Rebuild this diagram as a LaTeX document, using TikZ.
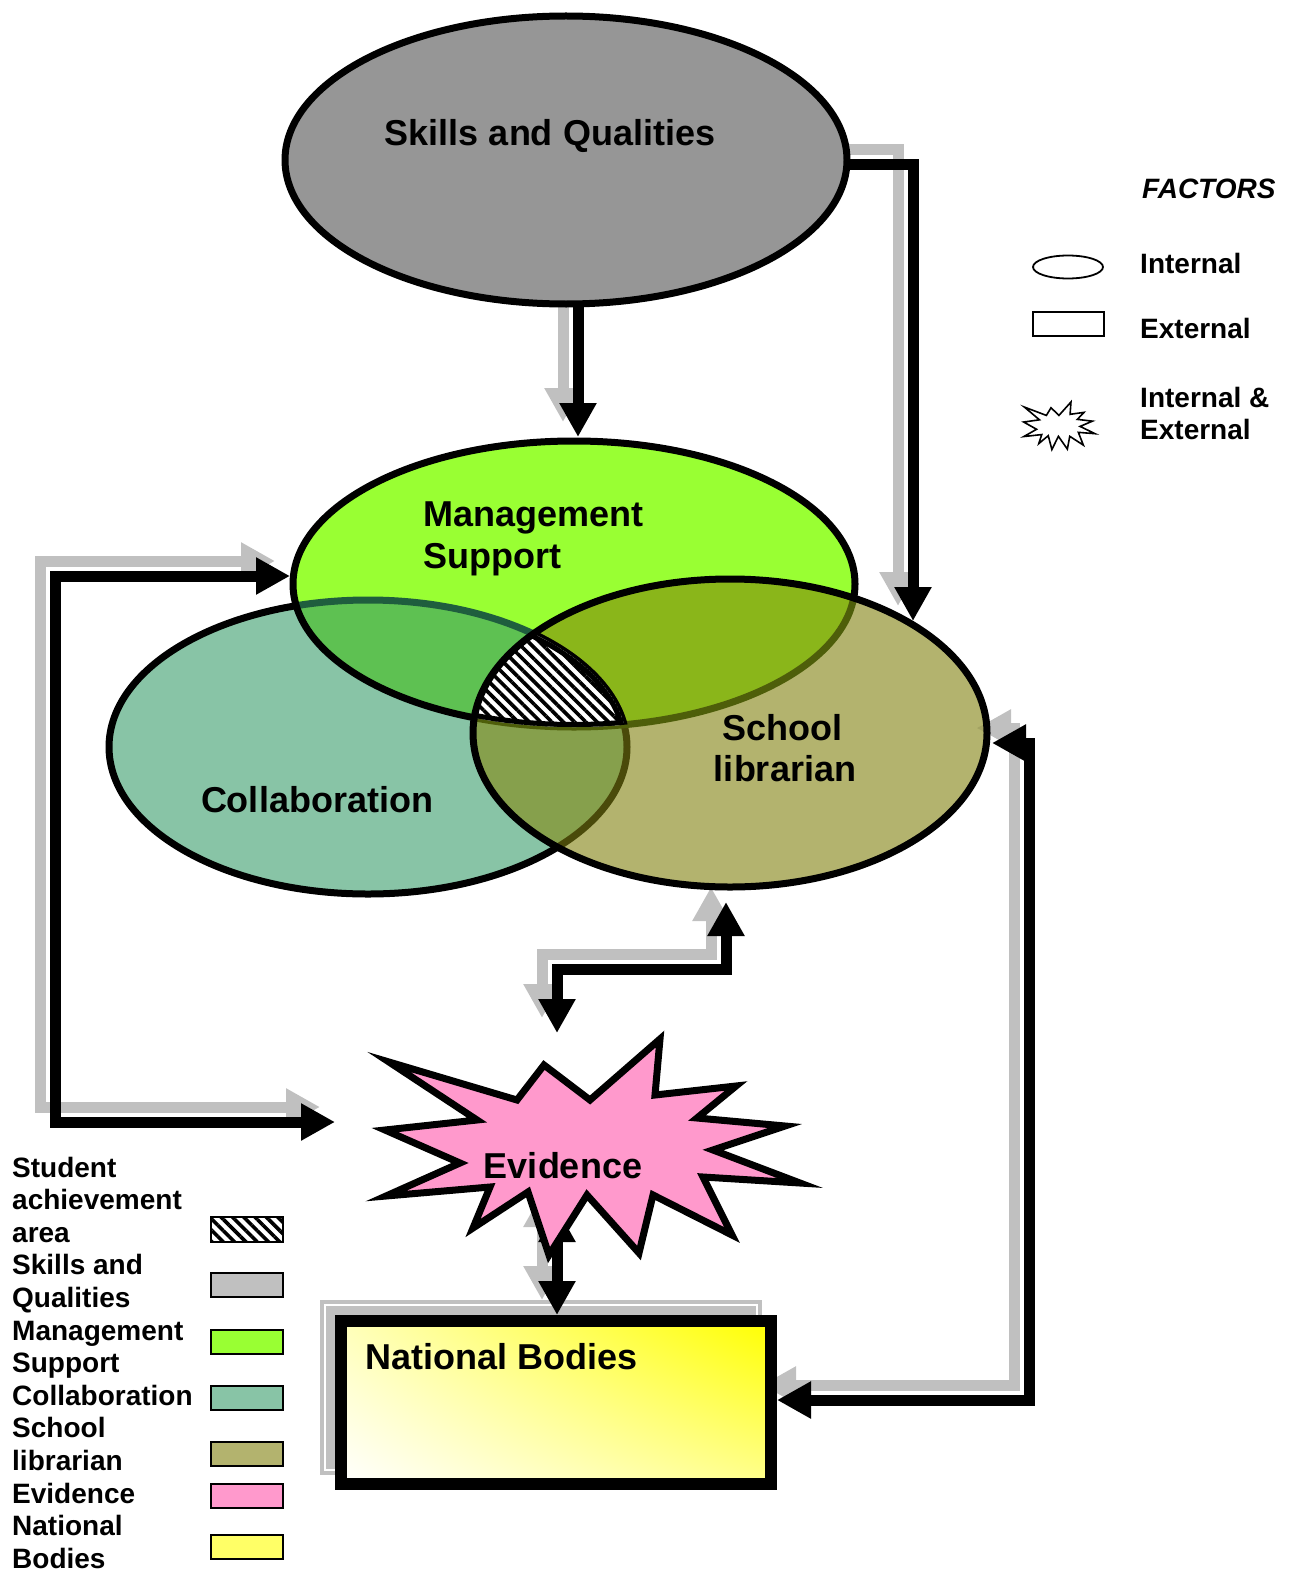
\documentclass[tikz,border=0pt]{standalone}
\usepackage{fontspec}
\setmainfont{Liberation Sans}
\usetikzlibrary{arrows.meta,patterns.meta,shadings}
\definecolor{sqgray}{HTML}{969696}
\definecolor{shgray}{HTML}{C0C0C0}
\definecolor{msgreen}{HTML}{99FF33}
\definecolor{cogreen}{HTML}{88C4A6}
\definecolor{slolive}{HTML}{B3B36E}
\definecolor{mcgreen}{HTML}{5EC152}
\definecolor{msolive}{HTML}{8AB61A}
\definecolor{csolive}{HTML}{86A04C}
\definecolor{mutgreen}{HTML}{1F5E3E}
\definecolor{mutolive}{HTML}{4A4A0A}
\definecolor{mutolivetwo}{HTML}{4E5E0A}
\definecolor{mutshadow}{HTML}{A2A262}
\definecolor{evpink}{HTML}{FF99CC}
\definecolor{nbyellow}{HTML}{FFFF66}
\def\pSQ{(566,160) ellipse [x radius=281pt, y radius=144pt]}
\def\pMS{(574,584) ellipse [x radius=281pt, y radius=143pt]}
\def\pCO{(368,747) ellipse [x radius=259pt, y radius=147pt]}
\def\pSL{(730,733) ellipse [x radius=257pt, y radius=154pt]}
\def\pStar{(389,1062) -- (517,1100) -- (544,1065) -- (590,1100) -- (660,1039) -- (655,1095) -- (736,1086) -- (697,1118) -- (785,1126) -- (713,1150) -- (800,1183) -- (703,1177) -- (732,1235) -- (653,1195) -- (639,1253) -- (587,1195) -- (549,1255) -- (528,1192) -- (473,1228) -- (490,1187) -- (386,1196) -- (460,1163) -- (385,1130) -- (477,1120) -- cycle}
\begin{document}
\begin{tikzpicture}[x=1pt,y=-1pt,
  >={Triangle[length=34pt,width=35pt]},
  shd/.style={draw=shgray,line width=11pt,line join=miter,transform canvas={shift={(-15,-15)}}},
  blk/.style={draw=black,line width=11pt,line join=miter},
  outl/.style={line width=7pt},
  maintext/.style={font=\fontsize{36}{42}\selectfont\bfseries,inner sep=0pt},
  legtext/.style={font=\fontsize{28}{32}\selectfont\bfseries,inner sep=0pt},
  swatch/.style={draw=black,line width=2pt},
  hatchfill/.style={pattern={Lines[angle=-45,distance=8pt,line width=3.6pt]},pattern color=black}
]
\fill[white] (0,0) rectangle (1301,1573);
\useasboundingbox (0,0) rectangle (1301,1573);

% connector end points
\coordinate (a1s) at (578,300);  \coordinate (a1e) at (578,437);
\coordinate (a2s) at (845,165);  \coordinate (a2c) at (913,165);  \coordinate (a2e) at (913,621);
\coordinate (a3s) at (290,576);  \coordinate (a3c) at (55,576);   \coordinate (a3d) at (55,1122);  \coordinate (a3e) at (335,1122);
\coordinate (a4s) at (557,1033); \coordinate (a4c) at (557,969);  \coordinate (a4d) at (726,969);  \coordinate (a4e) at (726,902);
\coordinate (a5s) at (557,1208); \coordinate (a5e) at (557,1315);
\coordinate (a6s) at (992,743);  \coordinate (a6c) at (1029,743); \coordinate (a6d) at (1029,1400); \coordinate (a6e) at (777,1400);

% shadow of the National Bodies box
\fill[shgray] (320,1300) rectangle (762,1475);
\draw[white,line width=1.2pt] (325,1305) rectangle (757,1470);

% shadows of the connectors
\draw[shd,->] (a1s) -- (a1e);
\draw[shd,->] (a2s) -- (a2c) -- (a2e);
\draw[shd,<->] (a3s) -- (a3c) -- (a3d) -- (a3e);
\draw[shd,<->] (a4s) -- (a4c) -- (a4d) -- (a4e);
\draw[shd,<->] (a5s) -- (a5e);
\draw[shd,<->] (a6s) -- (a6c) -- (a6d) -- (a6e);

% connectors
\draw[blk,->] (a1s) -- (a1e);
\draw[blk,->] (a2s) -- (a2c) -- (a2e);
\draw[blk,<->] (a3s) -- (a3c) -- (a3d) -- (a3e);
\draw[blk,<->] (a4s) -- (a4c) -- (a4d) -- (a4e);
\draw[blk,<->] (a5s) -- (a5e);
\draw[blk,<->] (a6s) -- (a6c) -- (a6d) -- (a6e);

% Skills and Qualities
\fill[sqgray] \pSQ;
\draw[outl] \pSQ;

% Collaboration
\fill[cogreen] \pCO;
\draw[outl] \pCO;

% Management Support
\fill[msgreen] \pMS;
\begin{scope}
  \clip \pMS;
  \fill[mcgreen] \pCO;
  \draw[outl,mutgreen] \pCO;
\end{scope}
\draw[outl] \pMS;

% School librarian
\fill[slolive] \pSL;
\begin{scope}
  \clip \pSL;
  \fill[msolive] \pMS;
  \fill[csolive] \pCO;
  \fill[mutshadow] (977,728) -- (1011,710.5) -- (1011,745.5) -- cycle;
  \draw[outl,mutolive] \pCO;
  \draw[outl,mutolivetwo] \pMS;
\end{scope}

% student achievement area
\begin{scope}
  \clip \pSL;
  \clip \pMS;
  \draw[outl] \pCO;
  \clip \pCO;
  \fill[white] \pCO;
  \fill[hatchfill] \pCO;
  \draw[line width=10pt] \pMS;
  \draw[line width=10pt] \pCO;
\end{scope}
\draw[outl] \pSL;

% Evidence
\draw[line width=7pt,line join=miter,fill=evpink] \pStar;

% National Bodies box
\shade[lower left=white, upper left=nbyellow!45!white, lower right=nbyellow!75!white, upper right=yellow]
  (341,1321) rectangle (771,1484);
\draw[line width=12pt] (341,1321) rectangle (771,1484);

% labels
\node[maintext,anchor=base] (sqt) at (550,146) {Skills and Qualities};
\node[maintext,anchor=base west] (mst1) at (423,526) {Management};
\node[maintext,anchor=base west] (mst2) at (423,568) {Support};
\node[maintext,anchor=base] (slt1) at (782,740) {School};
\node[maintext,anchor=base] (slt2) at (785,781) {librarian};
\node[maintext,anchor=base] (cot) at (317,812) {Collaboration};
\node[maintext,anchor=base] (evt) at (563,1178) {Evidence};
\node[maintext,anchor=base west] (nbt) at (365,1369) {National Bodies};

% legend: factors
\node[legtext,anchor=base west,font=\fontsize{28}{32}\selectfont\bfseries\itshape] (fac) at (1142,199) {FACTORS};
\draw[line width=1.8pt] (1068,267) ellipse [x radius=35pt, y radius=11.5pt];
\node[legtext,anchor=base west] (lint) at (1140,273) {Internal};
\draw[line width=1.8pt] (1033,312) rectangle (1104,336);
\node[legtext,anchor=base west] (lext) at (1140,338) {External};
\begin{scope}[shift={(1024,402)}, xscale=0.172, yscale=0.22, shift={(-387,-1039)}]
  \draw[line width=1.6pt,line join=miter,fill=white] \pStar;
\end{scope}
\node[legtext,anchor=base west] (lie1) at (1140,407) {Internal \&};
\node[legtext,anchor=base west] (lie2) at (1140,439) {External};

% legend: colours
\foreach \lbl [count=\i] in {Student,achievement,area,Skills and,Qualities,Management,Support,Collaboration,School,librarian,Evidence,National,Bodies}
  \node[legtext,anchor=base west] (lg\i) at (12,{1177+32.6*(\i-1)}) {\lbl};
\fill[white] (211,1217) rectangle (283,1242);
\draw[swatch,hatchfill] (211,1217) rectangle (283,1242);
\draw[swatch,fill=shgray] (211,1273) rectangle (283,1297);
\draw[swatch,fill=msgreen] (211,1330) rectangle (283,1354);
\draw[swatch,fill=cogreen] (211,1386) rectangle (283,1410);
\draw[swatch,fill=slolive] (211,1442) rectangle (283,1466);
\draw[swatch,fill=evpink] (211,1484) rectangle (283,1508);
\draw[swatch,fill=nbyellow] (211,1535) rectangle (283,1559);
\end{tikzpicture}
\end{document}
